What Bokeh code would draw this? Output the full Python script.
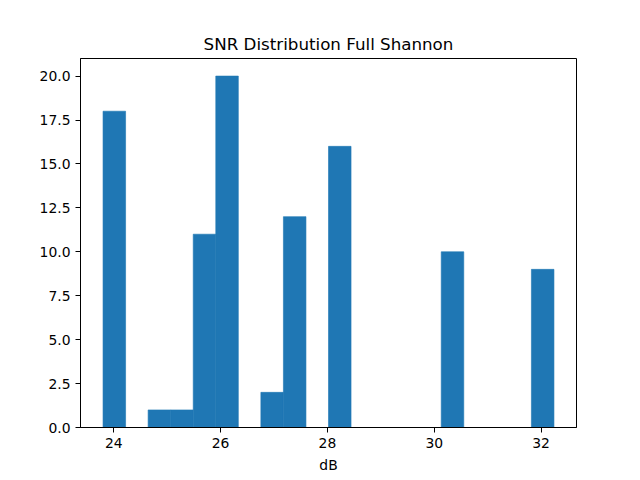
import numpy as np
from bokeh.plotting import figure
from bokeh.models import Range1d, FixedTicker, NumeralTickFormatter
from bokeh.embed import file_html
from bokeh.resources import INLINE

# histogram of SNR values (dB), 20 equal bins
bin_lo = 23.8
bin_hi = 32.24
counts = [18, 0, 1, 1, 11, 20, 0, 2, 12, 0, 16, 0, 0, 0, 0, 10, 0, 0, 0, 9]
x_ticks = [24, 26, 28, 30, 32]
y_ticks = [0.0, 2.5, 5.0, 7.5, 10.0, 12.5, 15.0, 17.5, 20.0]

edges = np.linspace(bin_lo, bin_hi, len(counts) + 1)
pad = 0.05 * (bin_hi - bin_lo)

p = figure(title="SNR Distribution Full Shannon", output_backend="svg", toolbar_location=None,
           frame_width=496, frame_height=369,
           x_range=Range1d(bin_lo - pad, bin_hi + pad), y_range=Range1d(0, max(counts) * 1.05),
           min_border_left=80, min_border_right=56, min_border_top=58, min_border_bottom=45)
p.background_fill_color = "white"
p.border_fill_color = "white"
p.outline_line_color = "black"
p.outline_line_alpha = 1
p.outline_line_width = 1
p.xgrid.grid_line_color = None
p.ygrid.grid_line_color = None

p.title.align = "center"
p.title.text_font = "DejaVu Sans"
p.title.text_font_size = "16.7px"
p.title.text_font_style = "normal"
p.title.text_color = "black"

p.quad(left=edges[:-1], right=edges[1:], bottom=0, top=counts,
       fill_color="#1f77b4", line_color="#1f77b4", line_width=0.6)

p.xaxis.ticker = FixedTicker(ticks=x_ticks)
p.yaxis.ticker = FixedTicker(ticks=y_ticks)
p.yaxis.formatter = NumeralTickFormatter(format="0.0")
p.xaxis.axis_label = "dB"
for ax in (p.xaxis, p.yaxis):
    ax.axis_line_color = "black"
    ax.major_tick_line_color = "black"
    ax.major_tick_out = 5
    ax.major_tick_in = 0
    ax.minor_tick_line_color = None
    ax.major_label_text_font = "DejaVu Sans"
    ax.major_label_text_font_size = "13.9px"
    ax.major_label_text_color = "black"
    ax.axis_label_text_font = "DejaVu Sans"
    ax.axis_label_text_font_size = "13.9px"
    ax.axis_label_text_font_style = "normal"
    ax.axis_label_text_color = "black"
    ax.axis_label_standoff = 6

open("out.html", "w").write(file_html(p, INLINE))
